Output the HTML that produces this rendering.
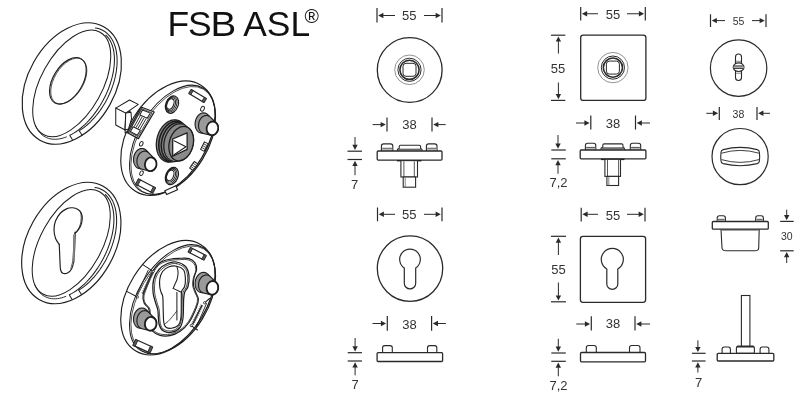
<!DOCTYPE html>
<html><head><meta charset="utf-8"><style>
html,body{margin:0;padding:0;background:#fff;}
svg{display:block;font-family:"Liberation Sans",sans-serif;will-change:transform;}
</style></head><body>
<svg width="810" height="400" viewBox="0 0 810 400">
<line x1="377" y1="8" x2="377" y2="22.5" stroke="#2a2a2a" stroke-width="1.2"/>
<line x1="442" y1="8" x2="442" y2="22.5" stroke="#2a2a2a" stroke-width="1.2"/>
<line x1="395" y1="15.5" x2="382.90" y2="15.50" stroke="#2a2a2a" stroke-width="1"/>
<path d="M378.20,15.50 L383.40,12.80 L383.40,18.20Z" fill="#2a2a2a"/>
<line x1="424" y1="15.5" x2="436.10" y2="15.50" stroke="#2a2a2a" stroke-width="1"/>
<path d="M440.80,15.50 L435.60,18.20 L435.60,12.80Z" fill="#2a2a2a"/>
<text x="409.3" y="20" font-size="13" text-anchor="middle" fill="#333">55</text>
<circle cx="409.7" cy="70" r="32.4" fill="none" stroke="#2a2a2a" stroke-width="1.3"/>
<circle cx="409.5" cy="69.8" r="14.8" fill="none" stroke="#777" stroke-width="0.8"/>
<circle cx="409.5" cy="69.8" r="11.6" fill="none" stroke="#2a2a2a" stroke-width="1.0"/>
<circle cx="409.5" cy="69.8" r="9.6" fill="none" stroke="#2a2a2a" stroke-width="1.6"/>
<rect x="403" y="63.3" width="13" height="13" rx="3" fill="none" stroke="#2a2a2a" stroke-width="1.0"/>
<line x1="387" y1="117.5" x2="387" y2="131.5" stroke="#2a2a2a" stroke-width="1.2"/>
<line x1="432" y1="117.5" x2="432" y2="131.5" stroke="#2a2a2a" stroke-width="1.2"/>
<line x1="372.6" y1="124.6" x2="381.10" y2="124.60" stroke="#2a2a2a" stroke-width="1"/>
<path d="M385.80,124.60 L380.60,127.30 L380.60,121.90Z" fill="#2a2a2a"/>
<line x1="445.7" y1="124.6" x2="437.90" y2="124.60" stroke="#2a2a2a" stroke-width="1"/>
<path d="M433.20,124.60 L438.40,121.90 L438.40,127.30Z" fill="#2a2a2a"/>
<text x="409.5" y="128.8" font-size="13" text-anchor="middle" fill="#333">38</text>
<path d="M381.4,151 L381.4,146.1 Q381.4,143.9 383.59999999999997,143.9 L390.6,143.9 Q392.8,143.9 392.8,146.1 L392.8,151" fill="#fff" stroke="#2a2a2a" stroke-width="1.1" />
<line x1="382.2" y1="148.302" x2="392.0" y2="148.302" stroke="#444" stroke-width="1.0"/>
<rect x="382.0" y="148.802" width="10.200000000000035" height="2.0980000000000074" fill="#bbb"/>
<path d="M426.4,151 L426.4,146.1 Q426.4,143.9 428.59999999999997,143.9 L434.8,143.9 Q437,143.9 437,146.1 L437,151" fill="#fff" stroke="#2a2a2a" stroke-width="1.1" />
<line x1="427.2" y1="148.302" x2="436.2" y2="148.302" stroke="#444" stroke-width="1.0"/>
<rect x="427.0" y="148.802" width="9.400000000000023" height="2.0980000000000074" fill="#bbb"/>
<path d="M397.4,151 L397.4,149.79999999999998 Q397.4,148.79999999999998 398.4,148.79999999999998 L421,148.79999999999998 Q422,148.79999999999998 422,149.79999999999998 L422,151" fill="#fff" stroke="#2a2a2a" stroke-width="1.1" />
<path d="M399.2,148.79999999999998 L399.2,146.6 Q399.2,145.2 400.59999999999997,145.2 L419.2,145.2 Q420.6,145.2 420.6,146.6 L420.6,148.79999999999998" fill="#fff" stroke="#2a2a2a" stroke-width="1.1" />
<line x1="397.9" y1="149.4" x2="421.5" y2="149.4" stroke="#444" stroke-width="0.9"/>
<rect x="398.0" y="149.9" width="23.400000000000023" height="0.9999999999999943" fill="#bbb"/>
<rect x="377.2" y="151" width="64.80000000000001" height="9.099999999999994" rx="1" fill="#fff" stroke="#2a2a2a" stroke-width="1.3"/>
<line x1="396.9" y1="160.7" x2="421.5" y2="160.7" stroke="#222" stroke-width="1.4"/>
<rect x="400.9" y="160.6" width="16.600000000000023" height="16.400000000000006" rx="0" fill="#fff" stroke="#2a2a2a" stroke-width="1.1"/>
<line x1="403.9" y1="161.29999999999998" x2="403.9" y2="177" stroke="#444" stroke-width="0.9"/>
<line x1="414.3" y1="161.29999999999998" x2="414.3" y2="177" stroke="#444" stroke-width="0.9"/>
<rect x="403.2" y="177" width="12.400000000000034" height="10.199999999999989" rx="0" fill="#fff" stroke="#2a2a2a" stroke-width="1.1"/>
<line x1="405.2" y1="177.5" x2="405.2" y2="187.2" stroke="#666" stroke-width="0.8"/>
<line x1="347.5" y1="151.2" x2="362" y2="151.2" stroke="#2a2a2a" stroke-width="1.2"/>
<line x1="347.5" y1="159.5" x2="362" y2="159.5" stroke="#2a2a2a" stroke-width="1.2"/>
<line x1="355" y1="137" x2="355.00" y2="145.30" stroke="#2a2a2a" stroke-width="1"/>
<path d="M355.00,150.00 L352.30,144.80 L357.70,144.80Z" fill="#2a2a2a"/>
<line x1="355" y1="175.2" x2="355.00" y2="165.40" stroke="#2a2a2a" stroke-width="1"/>
<path d="M355.00,160.70 L357.70,165.90 L352.30,165.90Z" fill="#2a2a2a"/>
<text x="354.6" y="189.2" font-size="13" text-anchor="middle" fill="#333">7</text>
<line x1="377.5" y1="207.5" x2="377.5" y2="221.3" stroke="#2a2a2a" stroke-width="1.2"/>
<line x1="442" y1="207.5" x2="442" y2="221.3" stroke="#2a2a2a" stroke-width="1.2"/>
<line x1="395" y1="214.3" x2="383.40" y2="214.30" stroke="#2a2a2a" stroke-width="1"/>
<path d="M378.70,214.30 L383.90,211.60 L383.90,217.00Z" fill="#2a2a2a"/>
<line x1="424" y1="214.3" x2="436.10" y2="214.30" stroke="#2a2a2a" stroke-width="1"/>
<path d="M440.80,214.30 L435.60,217.00 L435.60,211.60Z" fill="#2a2a2a"/>
<text x="409.3" y="219" font-size="13" text-anchor="middle" fill="#333">55</text>
<circle cx="410" cy="268.6" r="32.7" fill="none" stroke="#2a2a2a" stroke-width="1.3"/>
<path d="M404.3,283.2 L404.3,268 A10.3,10.3 0 1 1 415.7,268 L415.7,283.2 A5.7,5.7 0 0 1 404.3,283.2Z" fill="none" stroke="#2a2a2a" stroke-width="1.2" />
<line x1="387.3" y1="316" x2="387.3" y2="330.7" stroke="#2a2a2a" stroke-width="1.2"/>
<line x1="431.6" y1="316" x2="431.6" y2="330.7" stroke="#2a2a2a" stroke-width="1.2"/>
<line x1="372.5" y1="323.5" x2="381.40" y2="323.50" stroke="#2a2a2a" stroke-width="1"/>
<path d="M386.10,323.50 L380.90,326.20 L380.90,320.80Z" fill="#2a2a2a"/>
<line x1="445.9" y1="323.5" x2="437.50" y2="323.50" stroke="#2a2a2a" stroke-width="1"/>
<path d="M432.80,323.50 L438.00,320.80 L438.00,326.20Z" fill="#2a2a2a"/>
<text x="409.6" y="328.6" font-size="13" text-anchor="middle" fill="#333">38</text>
<path d="M382.6,352.7 L382.6,347.8 Q382.6,345.6 384.8,345.6 L390.1,345.6 Q392.3,345.6 392.3,347.8 L392.3,352.7" fill="#fff" stroke="#2a2a2a" stroke-width="1.1" />
<path d="M427.5,352.7 L427.5,347.8 Q427.5,345.6 429.7,345.6 L434.6,345.6 Q436.8,345.6 436.8,347.8 L436.8,352.7" fill="#fff" stroke="#2a2a2a" stroke-width="1.1" />
<rect x="377.1" y="352.7" width="65.5" height="8.8" rx="1" fill="#fff" stroke="#2a2a2a" stroke-width="1.3"/>
<line x1="347.7" y1="352.7" x2="362" y2="352.7" stroke="#2a2a2a" stroke-width="1.2"/>
<line x1="347.7" y1="361" x2="362" y2="361" stroke="#2a2a2a" stroke-width="1.2"/>
<line x1="355.1" y1="338" x2="355.10" y2="346.80" stroke="#2a2a2a" stroke-width="1"/>
<path d="M355.10,351.50 L352.40,346.30 L357.80,346.30Z" fill="#2a2a2a"/>
<line x1="355.1" y1="375.3" x2="355.10" y2="366.90" stroke="#2a2a2a" stroke-width="1"/>
<path d="M355.10,362.20 L357.80,367.40 L352.40,367.40Z" fill="#2a2a2a"/>
<text x="355" y="389" font-size="13" text-anchor="middle" fill="#333">7</text>
<line x1="580.7" y1="7" x2="580.7" y2="20.6" stroke="#2a2a2a" stroke-width="1.2"/>
<line x1="645.3" y1="7" x2="645.3" y2="20.6" stroke="#2a2a2a" stroke-width="1.2"/>
<line x1="598" y1="13.75" x2="586.60" y2="13.75" stroke="#2a2a2a" stroke-width="1"/>
<path d="M581.90,13.75 L587.10,11.05 L587.10,16.45Z" fill="#2a2a2a"/>
<line x1="627" y1="13.75" x2="639.40" y2="13.75" stroke="#2a2a2a" stroke-width="1"/>
<path d="M644.10,13.75 L638.90,16.45 L638.90,11.05Z" fill="#2a2a2a"/>
<text x="612.9" y="18.5" font-size="13" text-anchor="middle" fill="#333">55</text>
<rect x="580.7" y="35.2" width="65.2" height="65.2" rx="2.5" fill="none" stroke="#2a2a2a" stroke-width="1.3"/>
<line x1="551" y1="35.2" x2="565.3" y2="35.2" stroke="#2a2a2a" stroke-width="1.2"/>
<line x1="551" y1="100.4" x2="565.3" y2="100.4" stroke="#2a2a2a" stroke-width="1.2"/>
<line x1="558.4" y1="53.6" x2="558.40" y2="41.10" stroke="#2a2a2a" stroke-width="1"/>
<path d="M558.40,36.40 L561.10,41.60 L555.70,41.60Z" fill="#2a2a2a"/>
<line x1="558.4" y1="82.5" x2="558.40" y2="94.50" stroke="#2a2a2a" stroke-width="1"/>
<path d="M558.40,99.20 L555.70,94.00 L561.10,94.00Z" fill="#2a2a2a"/>
<text x="558" y="73" font-size="13" text-anchor="middle" fill="#333">55</text>
<circle cx="612.9" cy="67.6" r="15.2" fill="none" stroke="#777" stroke-width="0.8"/>
<circle cx="612.9" cy="67.6" r="11.6" fill="none" stroke="#2a2a2a" stroke-width="1.0"/>
<circle cx="612.9" cy="67.6" r="9.6" fill="none" stroke="#2a2a2a" stroke-width="1.6"/>
<rect x="606.4" y="61.1" width="13" height="13" rx="3" fill="none" stroke="#2a2a2a" stroke-width="1.0"/>
<line x1="590.8" y1="115.5" x2="590.8" y2="129.5" stroke="#2a2a2a" stroke-width="1.2"/>
<line x1="635.5" y1="115.5" x2="635.5" y2="129.5" stroke="#2a2a2a" stroke-width="1.2"/>
<line x1="576" y1="123" x2="584.90" y2="123.00" stroke="#2a2a2a" stroke-width="1"/>
<path d="M589.60,123.00 L584.40,125.70 L584.40,120.30Z" fill="#2a2a2a"/>
<line x1="650" y1="123" x2="641.40" y2="123.00" stroke="#2a2a2a" stroke-width="1"/>
<path d="M636.70,123.00 L641.90,120.30 L641.90,125.70Z" fill="#2a2a2a"/>
<text x="613" y="127.6" font-size="13" text-anchor="middle" fill="#333">38</text>
<path d="M585.4,150 L585.4,145.39999999999998 Q585.4,143.2 587.6,143.2 L593.5999999999999,143.2 Q595.8,143.2 595.8,145.39999999999998 L595.8,150" fill="#fff" stroke="#2a2a2a" stroke-width="1.1" />
<line x1="586.1999999999999" y1="147.416" x2="595.0" y2="147.416" stroke="#444" stroke-width="1.0"/>
<rect x="586.0" y="147.916" width="9.199999999999978" height="1.984000000000003" fill="#bbb"/>
<path d="M630.3,150 L630.3,145.39999999999998 Q630.3,143.2 632.5,143.2 L638.5,143.2 Q640.7,143.2 640.7,145.39999999999998 L640.7,150" fill="#fff" stroke="#2a2a2a" stroke-width="1.1" />
<line x1="631.0999999999999" y1="147.416" x2="639.9000000000001" y2="147.416" stroke="#444" stroke-width="1.0"/>
<rect x="630.9" y="147.916" width="9.200000000000092" height="1.984000000000003" fill="#bbb"/>
<path d="M601,150 L601,148.45 Q601,147.45 602,147.45 L623.4,147.45 Q624.4,147.45 624.4,148.45 L624.4,150" fill="#fff" stroke="#2a2a2a" stroke-width="1.1" />
<path d="M602.8,147.45 L602.8,145.25 Q602.8,143.85 604.2,143.85 L621.6,143.85 Q623.0,143.85 623.0,145.25 L623.0,147.45" fill="#fff" stroke="#2a2a2a" stroke-width="1.1" />
<line x1="601.5" y1="148.4" x2="623.9" y2="148.4" stroke="#444" stroke-width="0.9"/>
<rect x="601.6" y="148.9" width="22.199999999999978" height="0.9999999999999943" fill="#bbb"/>
<rect x="580.2" y="150" width="65.69999999999993" height="8.800000000000011" rx="1" fill="#fff" stroke="#2a2a2a" stroke-width="1.3"/>
<line x1="600.9" y1="159.4" x2="624.5" y2="159.4" stroke="#222" stroke-width="1.4"/>
<rect x="604.9" y="159.3" width="15.600000000000023" height="17.099999999999994" rx="0" fill="#fff" stroke="#2a2a2a" stroke-width="1.1"/>
<line x1="607.5" y1="160.0" x2="607.5" y2="176.4" stroke="#444" stroke-width="0.9"/>
<line x1="618.6" y1="160.0" x2="618.6" y2="176.4" stroke="#444" stroke-width="0.9"/>
<rect x="606.9" y="176.4" width="11.700000000000045" height="9.099999999999994" rx="0" fill="#fff" stroke="#2a2a2a" stroke-width="1.1"/>
<line x1="608.8" y1="176.9" x2="608.8" y2="185.5" stroke="#666" stroke-width="0.8"/>
<line x1="551.3" y1="150" x2="565.8" y2="150" stroke="#2a2a2a" stroke-width="1.2"/>
<line x1="551.3" y1="158.8" x2="565.8" y2="158.8" stroke="#2a2a2a" stroke-width="1.2"/>
<line x1="558" y1="135" x2="558.00" y2="144.10" stroke="#2a2a2a" stroke-width="1"/>
<path d="M558.00,148.80 L555.30,143.60 L560.70,143.60Z" fill="#2a2a2a"/>
<line x1="558" y1="173.8" x2="558.00" y2="164.70" stroke="#2a2a2a" stroke-width="1"/>
<path d="M558.00,160.00 L560.70,165.20 L555.30,165.20Z" fill="#2a2a2a"/>
<text x="558.5" y="187.3" font-size="13" text-anchor="middle" fill="#333">7,2</text>
<line x1="581.2" y1="207.7" x2="581.2" y2="221.5" stroke="#2a2a2a" stroke-width="1.2"/>
<line x1="645" y1="207.7" x2="645" y2="221.5" stroke="#2a2a2a" stroke-width="1.2"/>
<line x1="598" y1="214.3" x2="587.10" y2="214.30" stroke="#2a2a2a" stroke-width="1"/>
<path d="M582.40,214.30 L587.60,211.60 L587.60,217.00Z" fill="#2a2a2a"/>
<line x1="627" y1="214.3" x2="639.10" y2="214.30" stroke="#2a2a2a" stroke-width="1"/>
<path d="M643.80,214.30 L638.60,217.00 L638.60,211.60Z" fill="#2a2a2a"/>
<text x="613" y="219.5" font-size="13" text-anchor="middle" fill="#333">55</text>
<rect x="580.4" y="236.3" width="65.2" height="66" rx="2.5" fill="none" stroke="#2a2a2a" stroke-width="1.3"/>
<line x1="551" y1="236.3" x2="566" y2="236.3" stroke="#2a2a2a" stroke-width="1.2"/>
<line x1="551" y1="301.8" x2="566" y2="301.8" stroke="#2a2a2a" stroke-width="1.2"/>
<line x1="558.4" y1="255" x2="558.40" y2="242.20" stroke="#2a2a2a" stroke-width="1"/>
<path d="M558.40,237.50 L561.10,242.70 L555.70,242.70Z" fill="#2a2a2a"/>
<line x1="558.4" y1="282.5" x2="558.40" y2="295.90" stroke="#2a2a2a" stroke-width="1"/>
<path d="M558.40,300.60 L555.70,295.40 L561.10,295.40Z" fill="#2a2a2a"/>
<text x="558.4" y="274.3" font-size="13" text-anchor="middle" fill="#333">55</text>
<path d="M606.8,283.9 L606.8,269 A11,11 0 1 1 617.8,269 L617.8,283.9 A5.5,5.5 0 0 1 606.8,283.9Z" fill="none" stroke="#2a2a2a" stroke-width="1.2" />
<line x1="591.3" y1="316.3" x2="591.3" y2="330.5" stroke="#2a2a2a" stroke-width="1.2"/>
<line x1="635" y1="316.3" x2="635" y2="330.5" stroke="#2a2a2a" stroke-width="1.2"/>
<line x1="576.3" y1="324" x2="585.40" y2="324.00" stroke="#2a2a2a" stroke-width="1"/>
<path d="M590.10,324.00 L584.90,326.70 L584.90,321.30Z" fill="#2a2a2a"/>
<line x1="650" y1="324" x2="640.90" y2="324.00" stroke="#2a2a2a" stroke-width="1"/>
<path d="M636.20,324.00 L641.40,321.30 L641.40,326.70Z" fill="#2a2a2a"/>
<text x="613" y="328" font-size="13" text-anchor="middle" fill="#333">38</text>
<path d="M586.3,352.5 L586.3,347.7 Q586.3,345.5 588.5,345.5 L594.0999999999999,345.5 Q596.3,345.5 596.3,347.7 L596.3,352.5" fill="#fff" stroke="#2a2a2a" stroke-width="1.1" />
<path d="M629.5,352.5 L629.5,347.7 Q629.5,345.5 631.7,345.5 L637.8,345.5 Q640,345.5 640,347.7 L640,352.5" fill="#fff" stroke="#2a2a2a" stroke-width="1.1" />
<rect x="580.5" y="352.5" width="65" height="9.3" rx="1" fill="#fff" stroke="#2a2a2a" stroke-width="1.3"/>
<line x1="551.3" y1="353" x2="565.8" y2="353" stroke="#2a2a2a" stroke-width="1.2"/>
<line x1="551.3" y1="361.3" x2="565.8" y2="361.3" stroke="#2a2a2a" stroke-width="1.2"/>
<line x1="558.3" y1="338.8" x2="558.30" y2="347.10" stroke="#2a2a2a" stroke-width="1"/>
<path d="M558.30,351.80 L555.60,346.60 L561.00,346.60Z" fill="#2a2a2a"/>
<line x1="558.3" y1="376.3" x2="558.30" y2="367.20" stroke="#2a2a2a" stroke-width="1"/>
<path d="M558.30,362.50 L561.00,367.70 L555.60,367.70Z" fill="#2a2a2a"/>
<text x="558.5" y="389.5" font-size="13" text-anchor="middle" fill="#333">7,2</text>
<line x1="710.5" y1="14.3" x2="710.5" y2="27" stroke="#2a2a2a" stroke-width="1.2"/>
<line x1="766" y1="14.3" x2="766" y2="27" stroke="#2a2a2a" stroke-width="1.2"/>
<line x1="725" y1="20.6" x2="716.40" y2="20.60" stroke="#2a2a2a" stroke-width="1"/>
<path d="M711.70,20.60 L716.90,17.90 L716.90,23.30Z" fill="#2a2a2a"/>
<line x1="752" y1="20.6" x2="760.10" y2="20.60" stroke="#2a2a2a" stroke-width="1"/>
<path d="M764.80,20.60 L759.60,23.30 L759.60,17.90Z" fill="#2a2a2a"/>
<text x="738.5" y="24.7" font-size="10.5" text-anchor="middle" fill="#333">55</text>
<circle cx="738.6" cy="68.1" r="28.2" fill="none" stroke="#2a2a2a" stroke-width="1.2"/>
<rect x="735.5" y="54.0" width="6.0" height="26.5" rx="3" fill="none" stroke="#2a2a2a" stroke-width="1.1"/>
<line x1="736" y1="61.3" x2="741" y2="61.3" stroke="#666" stroke-width="0.8"/>
<line x1="736" y1="73.2" x2="741" y2="73.2" stroke="#666" stroke-width="0.8"/>
<ellipse cx="738.6" cy="67.2" rx="5.4" ry="4.3" fill="#fff" stroke="#2a2a2a" stroke-width="1.1"/>
<rect x="733.6" y="65.9" width="10" height="2.6" fill="#aaa"/>
<line x1="733.5" y1="65.9" x2="743.7" y2="65.9" stroke="#333" stroke-width="0.9"/>
<line x1="733.5" y1="68.5" x2="743.7" y2="68.5" stroke="#333" stroke-width="0.9"/>
<line x1="719.3" y1="107" x2="719.3" y2="120" stroke="#2a2a2a" stroke-width="1.2"/>
<line x1="757" y1="107" x2="757" y2="120" stroke="#2a2a2a" stroke-width="1.2"/>
<line x1="706.3" y1="113.3" x2="713.40" y2="113.30" stroke="#2a2a2a" stroke-width="1"/>
<path d="M718.10,113.30 L712.90,116.00 L712.90,110.60Z" fill="#2a2a2a"/>
<line x1="770" y1="113.3" x2="762.90" y2="113.30" stroke="#2a2a2a" stroke-width="1"/>
<path d="M758.20,113.30 L763.40,110.60 L763.40,116.00Z" fill="#2a2a2a"/>
<text x="738.4" y="117.5" font-size="10.5" text-anchor="middle" fill="#333">38</text>
<circle cx="740.1" cy="156.6" r="28.1" fill="none" stroke="#2a2a2a" stroke-width="1.2"/>
<path d="M721,152.2 Q721,150.2 723.2,149.6 Q740.2,145.2 757.2,149.6 Q759.4,150.2 759.4,152.2 Q759.9,156.6 759.4,161 Q759.4,163 757.2,163.6 Q740.2,167.8 723.2,163.6 Q721,163 721,161 Q720.5,156.6 721,152.2Z" fill="none" stroke="#2a2a2a" stroke-width="1.1" />
<path d="M721.4,153.2 Q740.2,147.6 759,153.2 M721.4,159.6 Q740.2,165.2 759,159.6" fill="none" stroke="#2a2a2a" stroke-width="0.9" />
<path d="M717.2,221.5 L717.2,218.0 Q717.2,215.8 719.4000000000001,215.8 L723.1999999999999,215.8 Q725.4,215.8 725.4,218.0 L725.4,221.5" fill="#fff" stroke="#2a2a2a" stroke-width="1.1" />
<line x1="718.0" y1="219.334" x2="724.6" y2="219.334" stroke="#444" stroke-width="1.0"/>
<rect x="717.8000000000001" y="219.834" width="6.999999999999932" height="1.5659999999999967" fill="#bbb"/>
<path d="M755.7,221.5 L755.7,218.0 Q755.7,215.8 757.9000000000001,215.8 L761.1999999999999,215.8 Q763.4,215.8 763.4,218.0 L763.4,221.5" fill="#fff" stroke="#2a2a2a" stroke-width="1.1" />
<line x1="756.5" y1="219.334" x2="762.6" y2="219.334" stroke="#444" stroke-width="1.0"/>
<rect x="756.3000000000001" y="219.834" width="6.499999999999932" height="1.5659999999999967" fill="#bbb"/>
<rect x="712.3" y="221.5" width="56" height="7.7" rx="1" fill="#fff" stroke="#2a2a2a" stroke-width="1.3"/>
<line x1="722" y1="229.9" x2="758.5" y2="229.9" stroke="#444" stroke-width="1.2"/>
<path d="M721,229.2 L722,248 Q722.5,250.8 726,250.8 L755,250.8 Q758.5,250.8 758.7,248 L759.2,229.2" fill="none" stroke="#2a2a2a" stroke-width="1.1" />
<line x1="780.2" y1="221.4" x2="793.7" y2="221.4" stroke="#2a2a2a" stroke-width="1.2"/>
<line x1="780.2" y1="250.8" x2="793.7" y2="250.8" stroke="#2a2a2a" stroke-width="1.2"/>
<line x1="786.7" y1="209.6" x2="786.70" y2="215.50" stroke="#2a2a2a" stroke-width="1"/>
<path d="M786.70,220.20 L784.00,215.00 L789.40,215.00Z" fill="#2a2a2a"/>
<line x1="786.7" y1="263" x2="786.70" y2="256.70" stroke="#2a2a2a" stroke-width="1"/>
<path d="M786.70,252.00 L789.40,257.20 L784.00,257.20Z" fill="#2a2a2a"/>
<text x="786.8" y="240" font-size="10.5" text-anchor="middle" fill="#333">30</text>
<rect x="741.4" y="295.5" width="8.5" height="51" rx="0" fill="none" stroke="#2a2a2a" stroke-width="1.1"/>
<rect x="736.4" y="346.4" width="18" height="7" rx="1.5" fill="none" stroke="#2a2a2a" stroke-width="1.1"/>
<line x1="737" y1="346.6" x2="754" y2="346.6" stroke="#2a2a2a" stroke-width="1.8"/>
<path d="M722.1,353.3 L722.1,349.2 Q722.1,347 724.3000000000001,347 L728.1999999999999,347 Q730.4,347 730.4,349.2 L730.4,353.3" fill="#fff" stroke="#2a2a2a" stroke-width="1.1" />
<path d="M760.1,353.3 L760.1,349.2 Q760.1,347 762.3000000000001,347 L766.6999999999999,347 Q768.9,347 768.9,349.2 L768.9,353.3" fill="#fff" stroke="#2a2a2a" stroke-width="1.1" />
<rect x="717.2" y="353.3" width="56.6" height="7.7" rx="1" fill="#fff" stroke="#2a2a2a" stroke-width="1.3"/>
<line x1="691.9" y1="353.3" x2="705.6" y2="353.3" stroke="#2a2a2a" stroke-width="1.2"/>
<line x1="691.9" y1="361" x2="705.6" y2="361" stroke="#2a2a2a" stroke-width="1.2"/>
<line x1="697.9" y1="340.3" x2="697.90" y2="347.40" stroke="#2a2a2a" stroke-width="1"/>
<path d="M697.90,352.10 L695.20,346.90 L700.60,346.90Z" fill="#2a2a2a"/>
<line x1="697.9" y1="372.5" x2="697.90" y2="366.90" stroke="#2a2a2a" stroke-width="1"/>
<path d="M697.90,362.20 L700.60,367.40 L695.20,367.40Z" fill="#2a2a2a"/>
<text x="698.7" y="387.1" font-size="13" text-anchor="middle" fill="#333">7</text>
<text x="167.6" y="36.4" font-size="35.4" fill="#111">F<tspan dx="-1.2">S</tspan></text>
<text x="0" y="36.4" font-size="35.4" fill="#111" transform="translate(210.6,0) scale(1.09,1)">B</text>
<text x="243.2" y="36.4" font-size="35.4" fill="#111">ASL</text>
<text x="304.6" y="22.7" font-size="19.5" fill="#111">&#174;</text>
<ellipse cx="71.8" cy="83.48" rx="65.01" ry="43.63" transform="rotate(-60.62 71.8 83.48)" fill="#fff" stroke="#1e1e1e" stroke-width="1.15"/>
<ellipse cx="71.72" cy="83.42" rx="58.48" ry="30.63" transform="rotate(-60.98 71.72 83.42)" fill="none" stroke="#1e1e1e" stroke-width="1.03"/>
<ellipse cx="67.89" cy="80.8" rx="25.63" ry="14.8" transform="rotate(-58.79 67.89 80.8)" fill="none" stroke="#1e1e1e" stroke-width="1.15"/>
<ellipse cx="68.79" cy="81.1" rx="25.33" ry="14.5" transform="rotate(-58.79 68.79 81.1)" fill="none" stroke="#1e1e1e" stroke-width="0.69"/>
<path d="M95.41,27.99 L97.32,28.33 L99.16,28.82 L100.94,29.46 L102.64,30.25 L104.27,31.19 L105.82,32.28 L107.29,33.50 L108.66,34.86 L109.95,36.36 L111.13,37.99 L112.22,39.74 L113.21,41.61 L114.09,43.60 L114.86,45.70 L115.52,47.90 L116.07,50.19 L116.50,52.58 L116.82,55.06 L117.03,57.61 L117.12,60.23 L117.09,62.91 L116.94,65.65 L116.68,68.43 L116.31,71.26 L115.82,74.12 L115.22,77.00 L114.50,79.89 L113.68,82.80 L112.75,85.70 L111.72,88.59 L110.58,91.47 L109.35,94.32 L108.02,97.13 L106.60,99.91 L105.09,102.64 L103.50,105.31 L101.84,107.91 L100.10,110.45 L98.29,112.90 L96.42,115.27 L94.49,117.55 L92.50,119.72 L90.47,121.80 L88.40,123.76 L86.29,125.61 L84.16,127.33 L82.00,128.93 L79.82,130.39" fill="none" stroke="#1e1e1e" stroke-width="1.03" stroke-linejoin="round" stroke-linecap="round" />
<path d="M105.83,35.12 L107.10,36.41 L108.29,37.83 L109.38,39.39 L110.37,41.06 L111.25,42.86 L112.04,44.78 L112.71,46.80 L113.28,48.94 L113.73,51.17 L114.07,53.49 L114.30,55.90 L114.42,58.39 L114.42,60.96 L114.31,63.59 L114.09,66.27 L113.75,69.01 L113.30,71.80 L112.75,74.62 L112.08,77.46 L111.30,80.33 L110.42,83.21 L109.44,86.09 L108.36,88.97 L107.18,91.84 L105.90,94.68 L104.54,97.50 L103.09,100.28 L101.56,103.02 L99.95,105.71 L98.26,108.34 L96.51,110.91 L94.70,113.40 L92.82,115.81 L90.89,118.13 L88.92,120.36 L86.90,122.50 L84.84,124.52 L82.75,126.44 L80.64,128.24 L78.51,129.91 L76.36,131.47 L74.20,132.89 L72.05,134.17 L69.89,135.32" fill="none" stroke="#1e1e1e" stroke-width="1.03" stroke-linejoin="round" stroke-linecap="round" />
<path d="M66.36,136.91 L64.19,137.70 L62.05,138.34 L59.94,138.81 L57.87,139.13 L55.85,139.28 L53.88,139.28 L51.96,139.11 L50.12,138.79 L48.33,138.30 L46.63,137.66 L45.00,136.86 L43.46,135.91 L42.00,134.81 L40.64,133.56 L39.37,132.17 L38.21,130.64 L37.15,128.97 L36.19,127.18 L35.35,125.26" fill="none" stroke="#1e1e1e" stroke-width="0.92" stroke-linejoin="round" stroke-linecap="round" />
<path d="M82,135 L79,130.5" fill="none" stroke="#1e1e1e" stroke-width="1.03" stroke-linejoin="round" stroke-linecap="round" />
<path d="M70,135.8 L72.3,139.6" fill="none" stroke="#1e1e1e" stroke-width="1.03" stroke-linejoin="round" stroke-linecap="round" />
<ellipse cx="168.14" cy="138.2" rx="62.32" ry="40.27" transform="rotate(-58.31 168.14 138.2)" fill="#fff" stroke="#1e1e1e" stroke-width="1.15"/>
<ellipse cx="172.29" cy="139.84" rx="60.16" ry="34.39" transform="rotate(-59.03 172.29 139.84)" fill="none" stroke="#1e1e1e" stroke-width="1.03"/>
<ellipse cx="173.09" cy="140.44" rx="59.559999999999995" ry="33.79" transform="rotate(-59.03 173.09 140.44)" fill="none" stroke="#1e1e1e" stroke-width="0.69"/>
<ellipse cx="172.0" cy="104.6" rx="9.0" ry="6.1" transform="rotate(-68 172.0 104.6)" fill="#fff" stroke="#1e1e1e" stroke-width="1.26"/>
<ellipse cx="171.5" cy="104.39999999999999" rx="7.9" ry="5.1" transform="rotate(-68 171.5 104.39999999999999)" fill="none" stroke="#1e1e1e" stroke-width="0.92"/>
<ellipse cx="171.0" cy="104.19999999999999" rx="6.8" ry="4.2" transform="rotate(-68 171.0 104.19999999999999)" fill="none" stroke="#1e1e1e" stroke-width="0.92"/>
<ellipse cx="170.4" cy="104.0" rx="5.5" ry="3.3" transform="rotate(-68 170.4 104.0)" fill="#fff" stroke="#1e1e1e" stroke-width="1.15"/>
<ellipse cx="171.9" cy="176.0" rx="9.0" ry="6.1" transform="rotate(-68 171.9 176.0)" fill="#fff" stroke="#1e1e1e" stroke-width="1.26"/>
<ellipse cx="171.4" cy="175.8" rx="7.9" ry="5.1" transform="rotate(-68 171.4 175.8)" fill="none" stroke="#1e1e1e" stroke-width="0.92"/>
<ellipse cx="170.9" cy="175.6" rx="6.8" ry="4.2" transform="rotate(-68 170.9 175.6)" fill="none" stroke="#1e1e1e" stroke-width="0.92"/>
<ellipse cx="170.3" cy="175.4" rx="5.5" ry="3.3" transform="rotate(-68 170.3 175.4)" fill="#fff" stroke="#1e1e1e" stroke-width="1.15"/>
<ellipse cx="202.5" cy="108.8" rx="2.6" ry="1.7" transform="rotate(-65 202.5 108.8)" fill="none" stroke="#1e1e1e" stroke-width="0.92"/>
<ellipse cx="141.3" cy="143.8" rx="2.4" ry="1.6" transform="rotate(-65 141.3 143.8)" fill="none" stroke="#1e1e1e" stroke-width="0.92"/>
<ellipse cx="141.5" cy="173.2" rx="2.4" ry="1.6" transform="rotate(-65 141.5 173.2)" fill="none" stroke="#1e1e1e" stroke-width="0.92"/>
<path d="M156.30,144.77 L156.32,143.68 L156.38,142.57 L156.48,141.47 L156.63,140.36 L156.82,139.26 L157.05,138.16 L157.32,137.07 L157.63,135.98 L157.98,134.92 L158.37,133.87 L158.80,132.83 L159.26,131.82 L159.76,130.84 L160.29,129.88 L160.85,128.96 L161.44,128.07 L162.07,127.21 L162.72,126.39 L163.39,125.61 L164.09,124.87 L164.81,124.18 L165.55,123.53 L166.31,122.93 L167.09,122.39 L167.87,121.89 L168.67,121.44 L169.48,121.05 L170.29,120.71 L171.11,120.43 L171.93,120.20 L172.75,120.03 L173.57,119.92 L174.39,119.87 L175.20,119.87 L176.00,119.94 L176.79,120.06 L177.56,120.23 L178.32,120.47 L179.07,120.76 L179.79,121.10 L180.50,121.50 L181.18,121.96 L181.83,122.47 L189.08,128.38 L189.57,128.83 L190.04,129.32 L190.48,129.85 L190.89,130.42 L191.28,131.02 L191.64,131.66 L191.97,132.33 L192.28,133.03 L192.55,133.76 L192.79,134.51 L193.00,135.29 L193.18,136.10 L193.32,136.92 L193.43,137.77 L193.51,138.63 L193.55,139.50 L193.56,140.38 L193.54,141.28 L193.48,142.18 L193.39,143.08 L193.27,143.98 L193.11,144.89 L192.92,145.79 L192.69,146.68 L192.44,147.56 L192.16,148.44 L191.84,149.30 L191.50,150.15 L191.12,150.97 L190.72,151.78 L190.30,152.57 L189.85,153.33 L189.37,154.06 L188.88,154.77 L188.36,155.44 L187.82,156.08 L187.27,156.69 L186.69,157.26 L186.11,157.80 L185.51,158.29 L184.89,158.75 L184.27,159.16 L183.64,159.53 L183.00,159.86 L182.36,160.15 L181.71,160.38 L181.07,160.57 L180.42,160.72 L179.78,160.82 L170.43,162.08 L169.61,162.13 L168.80,162.13 L168.00,162.06 L167.21,161.94 L166.44,161.77 L165.68,161.53 L164.93,161.24 L164.21,160.90 L163.50,160.50 L162.82,160.04 L162.17,159.53 L161.54,158.98 L160.94,158.37 L160.38,157.72 L159.84,157.02 L159.34,156.27 L158.87,155.49 L158.44,154.66 L158.04,153.80 L157.68,152.90 L157.37,151.97 L157.09,151.01 L156.85,150.02 L156.66,149.01 L156.50,147.98 L156.39,146.92 L156.32,145.85Z" fill="#8a8a8a" stroke="#1e1e1e" stroke-width="1.26" stroke-linejoin="round" stroke-linecap="round" />
<path d="M168.48,161.53 L167.99,161.39 L167.51,161.22 L167.04,161.03 L166.57,160.82 L166.12,160.58 L165.67,160.31 L165.24,160.03 L164.81,159.72 L164.40,159.39 L164.00,159.04 L163.61,158.67 L163.23,158.27 L162.86,157.86 L162.51,157.42 L162.17,156.97 L161.85,156.50 L161.54,156.01 L161.25,155.50 L160.97,154.97 L160.70,154.43 L160.46,153.88 L160.23,153.30 L160.01,152.72 L159.81,152.12 L159.63,151.50 L159.47,150.88 L159.33,150.24 L159.20,149.59 L159.09,148.93 L159.00,148.27 L158.92,147.59 L158.87,146.91 L158.83,146.22 L158.81,145.53 L158.81,144.83 L158.83,144.13 L158.86,143.42 L158.92,142.71 L158.99,142.00 L159.08,141.29 L159.19,140.58 L159.31,139.87 L159.46,139.16 L159.62,138.46 L159.80,137.76 L159.99,137.06 L160.20,136.37 L160.43,135.69 L160.68,135.01 L160.94,134.34 L161.22,133.68 L161.51,133.03 L161.82,132.39 L162.14,131.76 L162.48,131.14 L162.83,130.53 L163.19,129.94 L163.57,129.36 L163.96,128.80 L164.36,128.25 L164.77,127.72 L165.20,127.21 L165.63,126.71 L166.07,126.23 L166.53,125.77 L166.99,125.33 L167.46,124.91 L167.94,124.51 L168.43,124.13 L168.92,123.77 L169.42,123.43 L169.92,123.12 L170.43,122.82 L170.95,122.55 L171.46,122.31 L171.98,122.08 L172.50,121.88 L173.03,121.71 L173.55,121.55 L174.08,121.43 L174.60,121.32 L175.12,121.24 L175.65,121.19 L176.17,121.16 L176.68,121.16 L177.20,121.18 L177.71,121.22 L178.21,121.29 L178.71,121.39 L179.20,121.51" fill="none" stroke="#1e1e1e" stroke-width="1.61" stroke-linejoin="round" stroke-linecap="round" />
<path d="M170.52,161.30 L170.05,161.16 L169.60,161.00 L169.15,160.82 L168.70,160.61 L168.27,160.38 L167.84,160.13 L167.43,159.86 L167.02,159.56 L166.63,159.25 L166.24,158.91 L165.87,158.55 L165.51,158.17 L165.16,157.78 L164.83,157.36 L164.51,156.92 L164.20,156.47 L163.90,156.00 L163.62,155.51 L163.36,155.01 L163.11,154.49 L162.87,153.95 L162.65,153.40 L162.45,152.84 L162.26,152.26 L162.09,151.67 L161.94,151.07 L161.80,150.45 L161.68,149.83 L161.58,149.20 L161.49,148.56 L161.42,147.91 L161.37,147.25 L161.33,146.59 L161.32,145.92 L161.32,145.25 L161.33,144.58 L161.37,143.90 L161.42,143.21 L161.49,142.53 L161.58,141.85 L161.69,141.16 L161.81,140.48 L161.95,139.80 L162.10,139.12 L162.27,138.45 L162.46,137.78 L162.67,137.11 L162.89,136.45 L163.12,135.80 L163.37,135.16 L163.64,134.52 L163.92,133.89 L164.21,133.28 L164.52,132.67 L164.85,132.08 L165.18,131.49 L165.53,130.92 L165.89,130.37 L166.27,129.83 L166.65,129.30 L167.05,128.79 L167.45,128.29 L167.87,127.81 L168.29,127.35 L168.73,126.91 L169.17,126.48 L169.62,126.08 L170.08,125.69 L170.54,125.32 L171.02,124.98 L171.49,124.65 L171.97,124.35 L172.46,124.06 L172.95,123.80 L173.45,123.56 L173.94,123.35 L174.44,123.15 L174.94,122.98 L175.44,122.84 L175.94,122.71 L176.45,122.61 L176.95,122.54 L177.44,122.48 L177.94,122.45 L178.43,122.45 L178.92,122.47 L179.41,122.51 L179.89,122.58 L180.37,122.67 L180.84,122.78" fill="none" stroke="#1e1e1e" stroke-width="1.61" stroke-linejoin="round" stroke-linecap="round" />
<path d="M172.56,161.07 L172.12,160.94 L171.68,160.78 L171.25,160.61 L170.83,160.41 L170.42,160.19 L170.01,159.95 L169.62,159.69 L169.23,159.41 L168.86,159.10 L168.49,158.78 L168.14,158.44 L167.80,158.08 L167.47,157.69 L167.15,157.29 L166.84,156.88 L166.55,156.44 L166.27,155.99 L166.00,155.52 L165.75,155.04 L165.51,154.54 L165.29,154.02 L165.08,153.50 L164.89,152.95 L164.71,152.40 L164.55,151.84 L164.40,151.26 L164.27,150.67 L164.16,150.07 L164.06,149.47 L163.98,148.85 L163.92,148.23 L163.87,147.60 L163.84,146.96 L163.82,146.32 L163.82,145.67 L163.84,145.02 L163.88,144.37 L163.93,143.72 L164.00,143.06 L164.08,142.40 L164.18,141.75 L164.30,141.09 L164.44,140.44 L164.59,139.79 L164.75,139.14 L164.93,138.49 L165.13,137.86 L165.34,137.22 L165.56,136.60 L165.81,135.98 L166.06,135.37 L166.33,134.76 L166.61,134.17 L166.91,133.59 L167.22,133.01 L167.54,132.45 L167.87,131.91 L168.22,131.37 L168.57,130.85 L168.94,130.34 L169.32,129.85 L169.71,129.37 L170.10,128.91 L170.51,128.47 L170.93,128.04 L171.35,127.63 L171.78,127.24 L172.22,126.87 L172.66,126.52 L173.11,126.18 L173.57,125.87 L174.03,125.58 L174.49,125.30 L174.96,125.05 L175.43,124.82 L175.90,124.61 L176.38,124.43 L176.86,124.26 L177.33,124.12 L177.81,124.00 L178.29,123.90 L178.77,123.83 L179.24,123.77 L179.72,123.75 L180.19,123.74 L180.65,123.76 L181.12,123.80 L181.58,123.86 L182.03,123.94 L182.48,124.05" fill="none" stroke="#1e1e1e" stroke-width="1.26" stroke-linejoin="round" stroke-linecap="round" />
<ellipse cx="181.2" cy="143.6" rx="17.6" ry="11.9" transform="rotate(-75 181.2 143.6)" fill="#8a8a8a" stroke="#1e1e1e" stroke-width="1.26"/>
<path d="M172.7,139 L187.1,132.9 L187.1,149.4 L172.7,156.3Z" fill="#fff" stroke="#1e1e1e" stroke-width="1.26" stroke-linejoin="round" stroke-linecap="round" />
<path d="M174,140.8 L186,146.8 L174,154.8" fill="none" stroke="#1e1e1e" stroke-width="1.03" stroke-linejoin="round" stroke-linecap="round" />
<path d="M191.28,89.52 L206.28,98.54 L203.92,102.48 L188.92,93.46Z" fill="#fff" stroke="#1e1e1e" stroke-width="1.15" stroke-linejoin="round" stroke-linecap="round" />
<path d="M193.17,90.66 L190.80,94.60" fill="none" stroke="#1e1e1e" stroke-width="0.92" stroke-linejoin="round" stroke-linecap="round" />
<path d="M191.28,89.52 L193.17,90.66 L190.80,94.60 L188.92,93.46Z" fill="#555" stroke="#1e1e1e" stroke-width="0.46" stroke-linejoin="round" stroke-linecap="round" />
<path d="M204.40,97.40 L202.03,101.34" fill="none" stroke="#1e1e1e" stroke-width="0.92" stroke-linejoin="round" stroke-linecap="round" />
<path d="M206.28,98.54 L204.40,97.40 L202.03,101.34 L203.92,102.48Z" fill="#555" stroke="#1e1e1e" stroke-width="0.46" stroke-linejoin="round" stroke-linecap="round" />
<path d="M200.55,149.37 L204.54,141.86 L208.25,143.83 L204.26,151.34Z" fill="#fff" stroke="#1e1e1e" stroke-width="1.03" stroke-linejoin="round" stroke-linecap="round" />
<path d="M201.55,147.49 L205.26,149.46" fill="none" stroke="#1e1e1e" stroke-width="0.80" stroke-linejoin="round" stroke-linecap="round" />
<path d="M202.55,145.61 L206.25,147.59" fill="none" stroke="#1e1e1e" stroke-width="0.80" stroke-linejoin="round" stroke-linecap="round" />
<path d="M203.54,143.74 L207.25,145.71" fill="none" stroke="#1e1e1e" stroke-width="0.80" stroke-linejoin="round" stroke-linecap="round" />
<path d="M189.69,168.07 L194.27,161.52 L197.71,163.93 L193.13,170.48Z" fill="#fff" stroke="#1e1e1e" stroke-width="1.03" stroke-linejoin="round" stroke-linecap="round" />
<path d="M190.83,166.43 L194.27,168.84" fill="none" stroke="#1e1e1e" stroke-width="0.80" stroke-linejoin="round" stroke-linecap="round" />
<path d="M191.98,164.80 L195.42,167.20" fill="none" stroke="#1e1e1e" stroke-width="0.80" stroke-linejoin="round" stroke-linecap="round" />
<path d="M193.13,163.16 L196.57,165.57" fill="none" stroke="#1e1e1e" stroke-width="0.80" stroke-linejoin="round" stroke-linecap="round" />
<path d="M138.62,178.89 L155.40,187.81 L152.58,193.11 L135.80,184.19Z" fill="#fff" stroke="#1e1e1e" stroke-width="1.15" stroke-linejoin="round" stroke-linecap="round" />
<path d="M140.56,179.92 L137.75,185.22" fill="none" stroke="#1e1e1e" stroke-width="0.92" stroke-linejoin="round" stroke-linecap="round" />
<path d="M138.62,178.89 L140.56,179.92 L137.75,185.22 L135.80,184.19Z" fill="#555" stroke="#1e1e1e" stroke-width="0.46" stroke-linejoin="round" stroke-linecap="round" />
<path d="M153.45,186.78 L150.64,192.08" fill="none" stroke="#1e1e1e" stroke-width="0.92" stroke-linejoin="round" stroke-linecap="round" />
<path d="M155.40,187.81 L153.45,186.78 L150.64,192.08 L152.58,193.11Z" fill="#555" stroke="#1e1e1e" stroke-width="0.46" stroke-linejoin="round" stroke-linecap="round" />
<path d="M164.86,190.72 L175.83,185.84 L177.54,189.68 L166.57,194.56Z" fill="#fff" stroke="#1e1e1e" stroke-width="1.15" stroke-linejoin="round" stroke-linecap="round" />
<path d="M195.11,123.80 L195.13,123.27 L195.17,122.74 L195.23,122.21 L195.31,121.68 L195.42,121.16 L195.54,120.64 L195.69,120.12 L195.85,119.62 L196.03,119.12 L196.23,118.64 L196.45,118.17 L196.68,117.71 L196.94,117.26 L197.20,116.83 L197.49,116.42 L197.79,116.03 L198.10,115.65 L198.42,115.30 L198.76,114.96 L199.11,114.65 L199.47,114.36 L199.83,114.10 L200.21,113.86 L200.59,113.64 L200.98,113.45 L201.37,113.29 L201.77,113.15 L202.17,113.04 L202.57,112.96 L202.98,112.90 L203.38,112.87 L203.78,112.87 L204.18,112.90 L204.57,112.95 L204.96,113.04 L205.34,113.15 L205.72,113.28 L206.09,113.45 L206.45,113.64 L206.80,113.85 L207.14,114.09 L207.46,114.36 L207.78,114.65 L216.29,123.02 L216.52,123.25 L216.73,123.50 L216.93,123.75 L217.11,124.02 L217.29,124.31 L217.45,124.60 L217.59,124.91 L217.72,125.22 L217.84,125.54 L217.95,125.88 L218.03,126.21 L218.10,126.56 L218.16,126.91 L218.20,127.26 L218.23,127.61 L218.24,127.97 L218.23,128.33 L218.21,128.69 L218.17,129.05 L218.11,129.41 L218.04,129.76 L217.96,130.11 L217.85,130.46 L217.74,130.80 L217.61,131.13 L217.46,131.46 L217.30,131.78 L217.13,132.08 L216.94,132.38 L216.75,132.67 L216.54,132.95 L216.32,133.21 L216.09,133.46 L215.84,133.69 L215.59,133.92 L215.33,134.12 L215.06,134.31 L214.79,134.49 L214.51,134.65 L214.22,134.79 L213.93,134.91 L213.63,135.02 L213.33,135.10 L213.03,135.17 L212.72,135.22 L212.42,135.26 L212.11,135.27 L211.81,135.26 L211.50,135.24 L211.20,135.19 L210.91,135.13 L201.03,133.04 L200.64,132.96 L200.26,132.85 L199.88,132.72 L199.51,132.55 L199.15,132.36 L198.80,132.15 L198.46,131.91 L198.14,131.64 L197.82,131.35 L197.52,131.04 L197.24,130.71 L196.97,130.35 L196.71,129.98 L196.48,129.58 L196.25,129.17 L196.05,128.74 L195.87,128.30 L195.70,127.84 L195.56,127.36 L195.43,126.88 L195.33,126.38 L195.24,125.88 L195.18,125.37 L195.13,124.85 L195.11,124.33Z" fill="#9a9a9a" stroke="#1e1e1e" stroke-width="1.15" stroke-linejoin="round" stroke-linecap="round" />
<path d="M202.45,133.12 L202.23,133.00 L202.01,132.87 L201.80,132.72 L201.59,132.57 L201.39,132.41 L201.19,132.23 L201.00,132.05 L200.82,131.86 L200.64,131.66 L200.47,131.45 L200.30,131.24 L200.14,131.01 L199.99,130.78 L199.84,130.54 L199.70,130.29 L199.57,130.04 L199.44,129.78 L199.33,129.51 L199.22,129.24 L199.12,128.96 L199.02,128.68 L198.94,128.39 L198.86,128.09 L198.79,127.80 L198.73,127.49 L198.68,127.19 L198.63,126.88 L198.60,126.57 L198.57,126.26 L198.56,125.94 L198.55,125.62 L198.55,125.31 L198.56,124.99 L198.57,124.67 L198.60,124.35 L198.63,124.03 L198.68,123.71 L198.73,123.39 L198.79,123.08 L198.86,122.76 L198.93,122.45 L199.02,122.14 L199.11,121.84 L199.21,121.54 L199.32,121.24 L199.44,120.94 L199.56,120.65 L199.69,120.37 L199.83,120.09 L199.98,119.81 L200.13,119.54 L200.29,119.28 L200.46,119.02 L200.63,118.77 L200.81,118.53 L201.00,118.30 L201.19,118.07 L201.38,117.85 L201.58,117.64 L201.79,117.44 L202.00,117.24 L202.22,117.06 L202.44,116.88 L202.66,116.72 L202.89,116.56 L203.12,116.42 L203.35,116.28 L203.59,116.15 L203.83,116.04 L204.07,115.93 L204.31,115.84 L204.56,115.75 L204.80,115.68 L205.05,115.62 L205.30,115.56 L205.55,115.52 L205.80,115.49 L206.05,115.47 L206.30,115.47 L206.54,115.47 L206.79,115.49 L207.04,115.51 L207.28,115.55 L207.52,115.60 L207.76,115.66 L208.00,115.73 L208.23,115.81 L208.46,115.90 L208.69,116.00 L208.91,116.12" fill="none" stroke="#1e1e1e" stroke-width="1.15" stroke-linejoin="round" stroke-linecap="round" />
<ellipse cx="212.4" cy="128.4" rx="6.9" ry="5.8" transform="rotate(-80 212.4 128.4)" fill="#fff" stroke="#1e1e1e" stroke-width="1.84"/>
<path d="M133.51,159.40 L133.53,158.87 L133.57,158.34 L133.63,157.81 L133.72,157.28 L133.82,156.76 L133.94,156.24 L134.09,155.72 L134.25,155.22 L134.43,154.72 L134.63,154.24 L134.85,153.77 L135.08,153.31 L135.34,152.86 L135.60,152.44 L135.89,152.02 L136.19,151.63 L136.50,151.25 L136.82,150.90 L137.16,150.56 L137.51,150.25 L137.87,149.96 L138.23,149.70 L138.61,149.46 L138.99,149.24 L139.38,149.05 L139.77,148.89 L140.17,148.75 L140.57,148.64 L140.97,148.56 L141.38,148.50 L141.78,148.47 L142.18,148.47 L142.58,148.50 L142.97,148.56 L143.36,148.64 L143.74,148.75 L144.12,148.88 L144.49,149.05 L144.85,149.24 L145.20,149.45 L145.54,149.69 L145.86,149.96 L146.18,150.25 L154.59,158.92 L154.82,159.15 L155.03,159.40 L155.23,159.65 L155.41,159.92 L155.59,160.21 L155.75,160.50 L155.89,160.81 L156.03,161.12 L156.14,161.44 L156.25,161.78 L156.33,162.11 L156.41,162.46 L156.46,162.81 L156.50,163.16 L156.53,163.51 L156.54,163.87 L156.53,164.23 L156.51,164.59 L156.47,164.95 L156.41,165.31 L156.34,165.66 L156.25,166.01 L156.15,166.36 L156.04,166.70 L155.91,167.03 L155.76,167.36 L155.60,167.68 L155.43,167.98 L155.25,168.28 L155.05,168.57 L154.84,168.85 L154.62,169.11 L154.38,169.36 L154.14,169.59 L153.89,169.82 L153.63,170.02 L153.36,170.22 L153.09,170.39 L152.81,170.55 L152.52,170.69 L152.23,170.81 L151.93,170.92 L151.63,171.00 L151.33,171.07 L151.02,171.12 L150.72,171.16 L150.41,171.17 L150.10,171.16 L149.80,171.14 L149.50,171.09 L149.21,171.03 L139.04,168.56 L138.66,168.45 L138.28,168.31 L137.91,168.15 L137.55,167.96 L137.20,167.75 L136.86,167.50 L136.54,167.24 L136.22,166.95 L135.92,166.64 L135.64,166.31 L135.37,165.95 L135.11,165.58 L134.88,165.18 L134.66,164.77 L134.45,164.34 L134.27,163.90 L134.10,163.44 L133.96,162.96 L133.83,162.48 L133.73,161.98 L133.64,161.48 L133.58,160.97 L133.53,160.45 L133.51,159.93Z" fill="#9a9a9a" stroke="#1e1e1e" stroke-width="1.15" stroke-linejoin="round" stroke-linecap="round" />
<path d="M140.71,168.75 L140.49,168.63 L140.27,168.49 L140.07,168.34 L139.86,168.18 L139.66,168.01 L139.47,167.83 L139.28,167.65 L139.10,167.45 L138.92,167.25 L138.75,167.04 L138.59,166.82 L138.43,166.59 L138.28,166.35 L138.14,166.11 L138.00,165.86 L137.87,165.60 L137.75,165.34 L137.64,165.07 L137.53,164.79 L137.44,164.51 L137.35,164.22 L137.27,163.93 L137.19,163.64 L137.13,163.34 L137.07,163.03 L137.03,162.73 L136.99,162.42 L136.96,162.10 L136.93,161.79 L136.92,161.47 L136.92,161.16 L136.92,160.84 L136.93,160.52 L136.95,160.20 L136.98,159.88 L137.02,159.56 L137.07,159.24 L137.13,158.93 L137.19,158.61 L137.26,158.30 L137.34,157.99 L137.43,157.68 L137.53,157.38 L137.64,157.08 L137.75,156.78 L137.87,156.49 L138.00,156.20 L138.13,155.92 L138.27,155.64 L138.42,155.37 L138.58,155.10 L138.74,154.84 L138.91,154.59 L139.09,154.34 L139.27,154.10 L139.46,153.87 L139.65,153.65 L139.85,153.43 L140.06,153.23 L140.26,153.03 L140.48,152.84 L140.70,152.66 L140.92,152.49 L141.14,152.33 L141.37,152.18 L141.60,152.04 L141.84,151.90 L142.08,151.78 L142.32,151.67 L142.56,151.57 L142.81,151.48 L143.05,151.40 L143.30,151.33 L143.55,151.28 L143.80,151.23 L144.04,151.20 L144.29,151.17 L144.54,151.16 L144.79,151.16 L145.04,151.17 L145.28,151.19 L145.53,151.22 L145.77,151.26 L146.01,151.32 L146.25,151.38 L146.48,151.46 L146.72,151.54 L146.95,151.64 L147.17,151.75 L147.39,151.87" fill="none" stroke="#1e1e1e" stroke-width="1.15" stroke-linejoin="round" stroke-linecap="round" />
<ellipse cx="150.7" cy="164.3" rx="6.9" ry="5.8" transform="rotate(-80 150.7 164.3)" fill="#fff" stroke="#1e1e1e" stroke-width="1.84"/>
<path d="M115.75,108.1 L129.5,100 L138.25,104.4 L125.75,113.1Z" fill="#fff" stroke="#1e1e1e" stroke-width="1.03" stroke-linejoin="round" stroke-linecap="round" />
<path d="M115.75,108.1 L115.75,125 L125.1,130 L125.75,113.1Z" fill="#fff" stroke="#1e1e1e" stroke-width="1.03" stroke-linejoin="round" stroke-linecap="round" />
<path d="M125.75,113.1 L130,111 L128,131 L125.1,133 Z" fill="#fff" stroke="#1e1e1e" stroke-width="1.03" stroke-linejoin="round" stroke-linecap="round" />
<path d="M141.00,107.00 L154.20,112.00 L138.40,138.60 L127.00,132.50Z" fill="#fff" stroke="#1e1e1e" stroke-width="1.26" stroke-linejoin="round" stroke-linecap="round" />
<path d="M142.4,107.6 L128.4,132.9" fill="none" stroke="#1e1e1e" stroke-width="0.92" stroke-linejoin="round" stroke-linecap="round" />
<path d="M141.61,108.78 L152.10,112.82 L138.04,136.67 L128.85,131.83Z" fill="none" stroke="#1e1e1e" stroke-width="0.80" stroke-linejoin="round" stroke-linecap="round" />
<path d="M142.49,110.06 L150.32,113.11 L147.39,118.12 L139.76,114.94Z" fill="#fff" stroke="#1e1e1e" stroke-width="1.03" stroke-linejoin="round" stroke-linecap="round" />
<path d="M133.16,126.78 L140.29,130.26 L137.36,135.27 L130.43,131.66Z" fill="#fff" stroke="#1e1e1e" stroke-width="1.03" stroke-linejoin="round" stroke-linecap="round" />
<path d="M140.09,116.04 L134.30,126.35" fill="none" stroke="#1e1e1e" stroke-width="0.92" stroke-linejoin="round" stroke-linecap="round" />
<path d="M142.12,116.89 L136.21,127.27" fill="none" stroke="#1e1e1e" stroke-width="0.92" stroke-linejoin="round" stroke-linecap="round" />
<path d="M144.14,117.74 L138.13,128.20" fill="none" stroke="#1e1e1e" stroke-width="0.92" stroke-linejoin="round" stroke-linecap="round" />
<path d="M146.17,118.59 L140.04,129.12" fill="none" stroke="#1e1e1e" stroke-width="0.92" stroke-linejoin="round" stroke-linecap="round" />
<path d="M125.75,113.1 L131,112.2 L131.5,119 L128.5,129 L125.1,130Z" fill="#fff" stroke="#1e1e1e" stroke-width="1.03" stroke-linejoin="round" stroke-linecap="round" />
<ellipse cx="71.3" cy="242.98000000000002" rx="65.01" ry="43.63" transform="rotate(-60.62 71.3 242.98000000000002)" fill="#fff" stroke="#1e1e1e" stroke-width="1.15"/>
<ellipse cx="71.22" cy="242.92000000000002" rx="58.48" ry="30.63" transform="rotate(-60.98 71.22 242.92000000000002)" fill="none" stroke="#1e1e1e" stroke-width="1.03"/>
<path d="M94.91,187.49 L96.82,187.83 L98.66,188.32 L100.44,188.96 L102.14,189.75 L103.77,190.69 L105.32,191.78 L106.79,193.00 L108.16,194.36 L109.45,195.86 L110.63,197.49 L111.72,199.24 L112.71,201.11 L113.59,203.10 L114.36,205.20 L115.02,207.40 L115.57,209.69 L116.00,212.08 L116.32,214.56 L116.53,217.11 L116.62,219.73 L116.59,222.41 L116.44,225.15 L116.18,227.93 L115.81,230.76 L115.32,233.62 L114.72,236.50 L114.00,239.39 L113.18,242.30 L112.25,245.20 L111.22,248.09 L110.08,250.97 L108.85,253.82 L107.52,256.63 L106.10,259.41 L104.59,262.14 L103.00,264.81 L101.34,267.41 L99.60,269.95 L97.79,272.40 L95.92,274.77 L93.99,277.05 L92.00,279.22 L89.97,281.30 L87.90,283.26 L85.79,285.11 L83.66,286.83 L81.50,288.43 L79.32,289.89" fill="none" stroke="#1e1e1e" stroke-width="1.03" stroke-linejoin="round" stroke-linecap="round" />
<path d="M105.33,194.62 L106.60,195.91 L107.79,197.33 L108.88,198.89 L109.87,200.56 L110.75,202.36 L111.54,204.28 L112.21,206.30 L112.78,208.44 L113.23,210.67 L113.57,212.99 L113.80,215.40 L113.92,217.89 L113.92,220.46 L113.81,223.09 L113.59,225.77 L113.25,228.51 L112.80,231.30 L112.25,234.12 L111.58,236.96 L110.80,239.83 L109.92,242.71 L108.94,245.59 L107.86,248.47 L106.68,251.34 L105.40,254.18 L104.04,257.00 L102.59,259.78 L101.06,262.52 L99.45,265.21 L97.76,267.84 L96.01,270.41 L94.20,272.90 L92.32,275.31 L90.39,277.63 L88.42,279.86 L86.40,282.00 L84.34,284.02 L82.25,285.94 L80.14,287.74 L78.01,289.41 L75.86,290.97 L73.70,292.39 L71.55,293.67 L69.39,294.82" fill="none" stroke="#1e1e1e" stroke-width="1.03" stroke-linejoin="round" stroke-linecap="round" />
<path d="M65.86,296.41 L63.69,297.20 L61.55,297.84 L59.44,298.31 L57.37,298.63 L55.35,298.78 L53.38,298.78 L51.46,298.61 L49.62,298.29 L47.83,297.80 L46.13,297.16 L44.50,296.36 L42.96,295.41 L41.50,294.31 L40.14,293.06 L38.87,291.67 L37.71,290.14 L36.65,288.47 L35.69,286.68 L34.85,284.76" fill="none" stroke="#1e1e1e" stroke-width="0.92" stroke-linejoin="round" stroke-linecap="round" />
<path d="M81.5,294.5 L78.5,290.0" fill="none" stroke="#1e1e1e" stroke-width="1.03" stroke-linejoin="round" stroke-linecap="round" />
<path d="M69.5,295.3 L71.8,299.1" fill="none" stroke="#1e1e1e" stroke-width="1.03" stroke-linejoin="round" stroke-linecap="round" />
<path d="M59.20,244.50 C59.13,243.25 59.80,245.50 59.20,244.50 C58.60,243.50 56.47,240.92 55.60,238.50 C54.73,236.08 54.02,232.92 54.00,230.00 C53.98,227.08 54.42,223.83 55.50,221.00 C56.58,218.17 58.58,215.07 60.50,213.00 C62.42,210.93 65.00,209.47 67.00,208.60 C69.00,207.73 70.67,207.65 72.50,207.80 C74.33,207.95 76.52,208.55 78.00,209.50 C79.48,210.45 80.70,211.83 81.40,213.50 C82.10,215.17 82.33,217.42 82.20,219.50 C82.07,221.58 81.38,224.08 80.60,226.00 C79.82,227.92 78.40,229.80 77.50,231.00 C76.60,232.20 75.58,232.83 75.20,233.20 C74.82,233.57 75.30,230.40 75.20,233.20 C75.10,236.00 74.87,245.20 74.60,250.00 C74.33,254.80 74.10,258.83 73.60,262.00 C73.10,265.17 72.62,267.17 71.60,269.00 C70.58,270.83 68.97,272.30 67.50,273.00 C66.03,273.70 63.95,273.70 62.80,273.20 C61.65,272.70 61.07,271.87 60.60,270.00 C60.13,268.13 60.17,265.00 60.00,262.00 C59.83,259.00 59.73,254.92 59.60,252.00 C59.47,249.08 59.27,245.75 59.20,244.50Z" fill="#fff" stroke="#1e1e1e" stroke-width="1.15" stroke-linejoin="round" stroke-linecap="round" />
<path d="M80.80,212.50 C80.87,213.58 81.37,216.75 81.20,219.00 C81.03,221.25 80.53,224.00 79.80,226.00 C79.07,228.00 77.73,229.75 76.80,231.00 C75.87,232.25 74.63,233.08 74.20,233.50" fill="none" stroke="#1e1e1e" stroke-width="0.80" stroke-linejoin="round" stroke-linecap="round" />
<path d="M73.7,235 L73.5,250 L72.6,262 L70.8,268.5" fill="none" stroke="#555" stroke-width="0.92" stroke-linejoin="round" stroke-linecap="round" />
<path d="M74.3,235 L74.0,262" fill="none" stroke="#888" stroke-width="1.38" stroke-linejoin="round" stroke-linecap="round" />
<ellipse cx="168.14" cy="297.7" rx="62.32" ry="40.27" transform="rotate(-58.31 168.14 297.7)" fill="#fff" stroke="#1e1e1e" stroke-width="1.15"/>
<ellipse cx="172.29" cy="299.34000000000003" rx="60.16" ry="34.39" transform="rotate(-59.03 172.29 299.34000000000003)" fill="none" stroke="#1e1e1e" stroke-width="1.03"/>
<ellipse cx="173.09" cy="299.94000000000005" rx="59.559999999999995" ry="33.79" transform="rotate(-59.03 173.09 299.94000000000005)" fill="none" stroke="#1e1e1e" stroke-width="0.69"/>
<path d="M152.50,272.00 C154.55,268.50 156.58,265.13 159.50,263.00 C162.42,260.87 166.58,259.98 170.00,259.20 C173.42,258.42 176.83,258.40 180.00,258.30 C183.17,258.20 186.50,257.85 189.00,258.60 C191.50,259.35 193.73,260.98 195.00,262.80 C196.27,264.62 196.73,267.13 196.60,269.50 C196.47,271.87 194.73,274.42 194.20,277.00 C193.67,279.58 193.13,282.42 193.40,285.00 C193.67,287.58 194.97,290.17 195.80,292.50 C196.63,294.83 198.30,296.50 198.40,299.00 C198.50,301.50 197.97,303.58 196.40,307.50 C194.83,311.42 191.70,318.55 189.00,322.50 C186.30,326.45 183.37,329.02 180.20,331.20 C177.03,333.38 173.37,334.90 170.00,335.60 C166.63,336.30 162.92,336.13 160.00,335.40 C157.08,334.67 154.33,333.10 152.50,331.20 C150.67,329.30 149.48,326.62 149.00,324.00 C148.52,321.38 149.67,318.10 149.60,315.50 C149.53,312.90 149.50,310.45 148.60,308.40 C147.70,306.35 145.13,305.30 144.20,303.20 C143.27,301.10 142.50,299.00 143.00,295.80 C143.50,292.60 145.62,287.97 147.20,284.00 C148.78,280.03 150.45,275.50 152.50,272.00Z" fill="none" stroke="#1e1e1e" stroke-width="1.15" stroke-linejoin="round" stroke-linecap="round" />
<path d="M153.18,272.88 C155.16,269.50 157.12,266.25 159.94,264.19 C162.75,262.13 166.77,261.28 170.07,260.52 C173.37,259.77 176.66,259.75 179.72,259.65 C182.78,259.56 185.99,259.22 188.41,259.94 C190.82,260.67 192.97,262.24 194.19,264.00 C195.42,265.75 195.87,268.18 195.74,270.46 C195.61,272.75 193.94,275.21 193.42,277.70 C192.91,280.19 192.39,282.93 192.65,285.42 C192.91,287.91 194.16,290.41 194.97,292.66 C195.77,294.91 197.38,296.52 197.48,298.93 C197.57,301.34 197.06,303.35 195.55,307.13 C194.03,310.91 191.01,317.80 188.41,321.61 C185.80,325.42 182.97,327.90 179.91,330.00 C176.86,332.11 173.32,333.57 170.07,334.25 C166.82,334.92 163.23,334.76 160.42,334.06 C157.61,333.35 154.95,331.84 153.18,330.00 C151.41,328.17 150.27,325.58 149.81,323.06 C149.34,320.53 150.45,317.36 150.38,314.85 C150.32,312.34 150.29,309.98 149.42,308.00 C148.55,306.02 146.07,305.01 145.17,302.98 C144.27,300.96 143.53,298.93 144.01,295.84 C144.50,292.75 146.54,288.28 148.07,284.45 C149.60,280.63 151.20,276.25 153.18,272.88Z" fill="none" stroke="#1e1e1e" stroke-width="0.80" stroke-linejoin="round" stroke-linecap="round" />
<path d="M176.50,262.00 C179.50,262.50 183.42,264.25 185.50,266.50 C187.58,268.75 188.58,272.17 189.00,275.50 C189.42,278.83 188.73,283.67 188.00,286.50 C187.27,289.33 185.33,290.25 184.60,292.50 C183.87,294.75 183.87,295.75 183.60,300.00 C183.33,304.25 183.60,313.42 183.00,318.00 C182.40,322.58 181.83,325.13 180.00,327.50 C178.17,329.87 174.75,331.62 172.00,332.20 C169.25,332.78 165.63,332.28 163.50,331.00 C161.37,329.72 160.15,328.00 159.20,324.50 C158.25,321.00 158.42,313.67 157.80,310.00 C157.18,306.33 156.30,305.50 155.50,302.50 C154.70,299.50 153.28,295.92 153.00,292.00 C152.72,288.08 152.80,282.75 153.80,279.00 C154.80,275.25 156.72,272.08 159.00,269.50 C161.28,266.92 164.58,264.75 167.50,263.50 C170.42,262.25 173.50,261.50 176.50,262.00Z" fill="#fff" stroke="#1e1e1e" stroke-width="1.26" stroke-linejoin="round" stroke-linecap="round" />
<path d="M176.30,263.60 C179.07,264.07 182.72,265.73 184.60,267.80 C186.48,269.87 187.27,272.93 187.60,276.00 C187.93,279.07 187.33,283.53 186.60,286.20 C185.87,288.87 183.93,289.70 183.20,292.00 C182.47,294.30 182.47,295.70 182.20,300.00 C181.93,304.30 182.17,313.37 181.60,317.80 C181.03,322.23 180.43,324.43 178.80,326.60 C177.17,328.77 174.27,330.30 171.80,330.80 C169.33,331.30 165.90,330.77 164.00,329.60 C162.10,328.43 161.20,327.07 160.40,323.80 C159.60,320.53 159.77,313.55 159.20,310.00 C158.63,306.45 157.77,305.50 157.00,302.50 C156.23,299.50 154.87,295.83 154.60,292.00 C154.33,288.17 154.47,283.07 155.40,279.50 C156.33,275.93 158.10,273.02 160.20,270.60 C162.30,268.18 165.32,266.17 168.00,265.00 C170.68,263.83 173.53,263.13 176.30,263.60Z" fill="none" stroke="#1e1e1e" stroke-width="0.80" stroke-linejoin="round" stroke-linecap="round" />
<path d="M176.60,266.20 C179.12,266.70 182.13,267.95 183.60,270.00 C185.07,272.05 185.23,275.75 185.40,278.50 C185.57,281.25 185.23,284.33 184.60,286.50 C183.97,288.67 182.15,289.25 181.60,291.50 C181.05,293.75 181.40,295.75 181.30,300.00 C181.20,304.25 181.48,312.80 181.00,317.00 C180.52,321.20 179.98,323.33 178.40,325.20 C176.82,327.07 173.57,327.87 171.50,328.20 C169.43,328.53 167.28,328.15 166.00,327.20 C164.72,326.25 164.27,325.37 163.80,322.50 C163.33,319.63 163.37,314.25 163.20,310.00 C163.03,305.75 163.13,299.92 162.80,297.00 C162.47,294.08 161.70,294.17 161.20,292.50 C160.70,290.83 160.03,289.25 159.80,287.00 C159.57,284.75 159.33,281.58 159.80,279.00 C160.27,276.42 161.15,273.50 162.60,271.50 C164.05,269.50 166.17,267.88 168.50,267.00 C170.83,266.12 174.08,265.70 176.60,266.20Z" fill="#fff" stroke="#1e1e1e" stroke-width="1.15" stroke-linejoin="round" stroke-linecap="round" />
<path d="M176.90,266.60 C177.10,267.50 178.05,269.93 178.10,272.00 C178.15,274.07 177.78,276.83 177.20,279.00 C176.62,281.17 175.27,283.43 174.60,285.00 C173.93,286.57 173.43,287.83 173.20,288.40" fill="none" stroke="#1e1e1e" stroke-width="1.03" stroke-linejoin="round" stroke-linecap="round" />
<path d="M173.2,288.4 L181.2,292.2" fill="none" stroke="#1e1e1e" stroke-width="1.03" stroke-linejoin="round" stroke-linecap="round" />
<path d="M176.9,292.6 L176.9,320" fill="none" stroke="#1e1e1e" stroke-width="1.03" stroke-linejoin="round" stroke-linecap="round" />
<path d="M164.00,324.50 C164.67,324.00 166.58,322.83 168.00,321.50 C169.42,320.17 171.03,318.25 172.50,316.50 C173.97,314.75 176.08,311.92 176.80,311.00" fill="none" stroke="#1e1e1e" stroke-width="0.80" stroke-linejoin="round" stroke-linecap="round" />
<path d="M142.8,264.6 L153.2,271.4" fill="none" stroke="#1e1e1e" stroke-width="1.03" stroke-linejoin="round" stroke-linecap="round" />
<circle cx="153.2" cy="271.4" r="1.1" fill="#fff" stroke="#1e1e1e" stroke-width="0.8"/>
<path d="M127.2,291.6 L137.4,297.0" fill="none" stroke="#1e1e1e" stroke-width="1.03" stroke-linejoin="round" stroke-linecap="round" />
<circle cx="137.4" cy="297.0" r="1.1" fill="#fff" stroke="#1e1e1e" stroke-width="0.8"/>
<path d="M148.2,270.2 L136.8,295.0" fill="none" stroke="#1e1e1e" stroke-width="0.92" stroke-linejoin="round" stroke-linecap="round" />
<path d="M151.8,273.3 L143.0,293.3" fill="none" stroke="#333" stroke-width="1.49" stroke-linejoin="round" stroke-linecap="round" />
<path d="M152.90,273.78 L150.70,272.82" fill="none" stroke="#333" stroke-width="0.69" stroke-linejoin="round" stroke-linecap="round" />
<path d="M152.02,275.78 L149.82,274.82" fill="none" stroke="#333" stroke-width="0.69" stroke-linejoin="round" stroke-linecap="round" />
<path d="M151.14,277.78 L148.94,276.82" fill="none" stroke="#333" stroke-width="0.69" stroke-linejoin="round" stroke-linecap="round" />
<path d="M150.26,279.78 L148.06,278.82" fill="none" stroke="#333" stroke-width="0.69" stroke-linejoin="round" stroke-linecap="round" />
<path d="M149.38,281.78 L147.18,280.82" fill="none" stroke="#333" stroke-width="0.69" stroke-linejoin="round" stroke-linecap="round" />
<path d="M148.50,283.78 L146.30,282.82" fill="none" stroke="#333" stroke-width="0.69" stroke-linejoin="round" stroke-linecap="round" />
<path d="M147.62,285.78 L145.42,284.82" fill="none" stroke="#333" stroke-width="0.69" stroke-linejoin="round" stroke-linecap="round" />
<path d="M146.74,287.78 L144.54,286.82" fill="none" stroke="#333" stroke-width="0.69" stroke-linejoin="round" stroke-linecap="round" />
<path d="M145.86,289.78 L143.66,288.82" fill="none" stroke="#333" stroke-width="0.69" stroke-linejoin="round" stroke-linecap="round" />
<path d="M144.98,291.78 L142.78,290.82" fill="none" stroke="#333" stroke-width="0.69" stroke-linejoin="round" stroke-linecap="round" />
<path d="M144.10,293.78 L141.90,292.82" fill="none" stroke="#333" stroke-width="0.69" stroke-linejoin="round" stroke-linecap="round" />
<path d="M209.5,298.5 L204.6,302.8" fill="none" stroke="#1e1e1e" stroke-width="1.03" stroke-linejoin="round" stroke-linecap="round" />
<circle cx="204.6" cy="302.8" r="1.1" fill="#fff" stroke="#1e1e1e" stroke-width="0.8"/>
<path d="M197.5,330.0 L191.2,325.6" fill="none" stroke="#1e1e1e" stroke-width="1.03" stroke-linejoin="round" stroke-linecap="round" />
<circle cx="191.2" cy="325.6" r="1.1" fill="#fff" stroke="#1e1e1e" stroke-width="0.8"/>
<path d="M201.8,305.6 L192.8,323.8" fill="none" stroke="#333" stroke-width="1.49" stroke-linejoin="round" stroke-linecap="round" />
<path d="M202.88,306.13 L200.72,305.07" fill="none" stroke="#333" stroke-width="0.69" stroke-linejoin="round" stroke-linecap="round" />
<path d="M201.98,307.95 L199.82,306.89" fill="none" stroke="#333" stroke-width="0.69" stroke-linejoin="round" stroke-linecap="round" />
<path d="M201.08,309.77 L198.92,308.71" fill="none" stroke="#333" stroke-width="0.69" stroke-linejoin="round" stroke-linecap="round" />
<path d="M200.18,311.59 L198.02,310.53" fill="none" stroke="#333" stroke-width="0.69" stroke-linejoin="round" stroke-linecap="round" />
<path d="M199.28,313.41 L197.12,312.35" fill="none" stroke="#333" stroke-width="0.69" stroke-linejoin="round" stroke-linecap="round" />
<path d="M198.38,315.23 L196.22,314.17" fill="none" stroke="#333" stroke-width="0.69" stroke-linejoin="round" stroke-linecap="round" />
<path d="M197.48,317.05 L195.32,315.99" fill="none" stroke="#333" stroke-width="0.69" stroke-linejoin="round" stroke-linecap="round" />
<path d="M196.58,318.87 L194.42,317.81" fill="none" stroke="#333" stroke-width="0.69" stroke-linejoin="round" stroke-linecap="round" />
<path d="M195.68,320.69 L193.52,319.63" fill="none" stroke="#333" stroke-width="0.69" stroke-linejoin="round" stroke-linecap="round" />
<path d="M194.78,322.51 L192.62,321.45" fill="none" stroke="#333" stroke-width="0.69" stroke-linejoin="round" stroke-linecap="round" />
<path d="M193.88,324.33 L191.72,323.27" fill="none" stroke="#333" stroke-width="0.69" stroke-linejoin="round" stroke-linecap="round" />
<path d="M206.5,303.5 L196.5,326.5" fill="none" stroke="#1e1e1e" stroke-width="0.92" stroke-linejoin="round" stroke-linecap="round" />
<path d="M190.54,247.60 L206.13,255.54 L203.86,260.00 L188.27,252.06Z" fill="#fff" stroke="#1e1e1e" stroke-width="1.15" stroke-linejoin="round" stroke-linecap="round" />
<path d="M192.50,248.60 L190.23,253.05" fill="none" stroke="#1e1e1e" stroke-width="0.92" stroke-linejoin="round" stroke-linecap="round" />
<path d="M190.54,247.60 L192.50,248.60 L190.23,253.05 L188.27,252.06Z" fill="#555" stroke="#1e1e1e" stroke-width="0.46" stroke-linejoin="round" stroke-linecap="round" />
<path d="M204.17,254.55 L201.90,259.00" fill="none" stroke="#1e1e1e" stroke-width="0.92" stroke-linejoin="round" stroke-linecap="round" />
<path d="M206.13,255.54 L204.17,254.55 L201.90,259.00 L203.86,260.00Z" fill="#555" stroke="#1e1e1e" stroke-width="0.46" stroke-linejoin="round" stroke-linecap="round" />
<path d="M135.70,339.53 L152.51,347.02 L149.90,352.87 L133.09,345.38Z" fill="#fff" stroke="#1e1e1e" stroke-width="1.15" stroke-linejoin="round" stroke-linecap="round" />
<path d="M137.71,340.43 L135.10,346.28" fill="none" stroke="#1e1e1e" stroke-width="0.92" stroke-linejoin="round" stroke-linecap="round" />
<path d="M135.70,339.53 L137.71,340.43 L135.10,346.28 L133.09,345.38Z" fill="#555" stroke="#1e1e1e" stroke-width="0.46" stroke-linejoin="round" stroke-linecap="round" />
<path d="M150.50,346.12 L147.89,351.97" fill="none" stroke="#1e1e1e" stroke-width="0.92" stroke-linejoin="round" stroke-linecap="round" />
<path d="M152.51,347.02 L150.50,346.12 L147.89,351.97 L149.90,352.87Z" fill="#555" stroke="#1e1e1e" stroke-width="0.46" stroke-linejoin="round" stroke-linecap="round" />
<path d="M195.11,283.30 L195.13,282.77 L195.17,282.24 L195.23,281.71 L195.31,281.18 L195.42,280.66 L195.54,280.14 L195.69,279.62 L195.85,279.12 L196.03,278.62 L196.23,278.14 L196.45,277.67 L196.68,277.21 L196.94,276.76 L197.20,276.33 L197.49,275.92 L197.79,275.53 L198.10,275.15 L198.42,274.80 L198.76,274.46 L199.11,274.15 L199.47,273.86 L199.83,273.60 L200.21,273.36 L200.59,273.14 L200.98,272.95 L201.37,272.79 L201.77,272.65 L202.17,272.54 L202.57,272.46 L202.98,272.40 L203.38,272.37 L203.78,272.37 L204.18,272.40 L204.57,272.45 L204.96,272.54 L205.34,272.65 L205.72,272.79 L206.09,272.95 L206.45,273.14 L206.80,273.35 L207.14,273.60 L207.46,273.86 L207.78,274.15 L216.29,282.52 L216.52,282.75 L216.73,283.00 L216.93,283.25 L217.11,283.52 L217.29,283.81 L217.45,284.10 L217.59,284.41 L217.72,284.72 L217.84,285.04 L217.95,285.38 L218.03,285.71 L218.10,286.06 L218.16,286.40 L218.20,286.76 L218.23,287.11 L218.24,287.47 L218.23,287.83 L218.21,288.19 L218.17,288.55 L218.11,288.91 L218.04,289.26 L217.96,289.61 L217.85,289.96 L217.74,290.30 L217.61,290.63 L217.46,290.96 L217.30,291.27 L217.13,291.58 L216.94,291.88 L216.75,292.17 L216.54,292.45 L216.32,292.71 L216.09,292.96 L215.84,293.19 L215.59,293.42 L215.33,293.62 L215.06,293.81 L214.79,293.99 L214.51,294.15 L214.22,294.29 L213.93,294.41 L213.63,294.52 L213.33,294.61 L213.03,294.67 L212.72,294.72 L212.42,294.76 L212.11,294.77 L211.81,294.76 L211.50,294.74 L211.20,294.69 L210.91,294.63 L201.03,292.55 L200.64,292.46 L200.26,292.35 L199.88,292.21 L199.51,292.05 L199.15,291.86 L198.80,291.65 L198.46,291.40 L198.14,291.14 L197.82,290.85 L197.52,290.54 L197.24,290.21 L196.97,289.85 L196.71,289.48 L196.48,289.08 L196.25,288.67 L196.05,288.24 L195.87,287.80 L195.70,287.34 L195.56,286.86 L195.43,286.38 L195.33,285.88 L195.24,285.38 L195.18,284.87 L195.13,284.35 L195.11,283.82Z" fill="#9a9a9a" stroke="#1e1e1e" stroke-width="1.15" stroke-linejoin="round" stroke-linecap="round" />
<path d="M202.45,292.62 L202.23,292.50 L202.01,292.37 L201.80,292.22 L201.59,292.07 L201.39,291.91 L201.19,291.73 L201.00,291.55 L200.82,291.36 L200.64,291.16 L200.47,290.95 L200.30,290.74 L200.14,290.51 L199.99,290.28 L199.84,290.04 L199.70,289.79 L199.57,289.54 L199.44,289.28 L199.33,289.01 L199.22,288.74 L199.12,288.46 L199.02,288.18 L198.94,287.89 L198.86,287.59 L198.79,287.30 L198.73,286.99 L198.68,286.69 L198.63,286.38 L198.60,286.07 L198.57,285.76 L198.56,285.44 L198.55,285.12 L198.55,284.81 L198.56,284.49 L198.57,284.17 L198.60,283.85 L198.63,283.53 L198.68,283.21 L198.73,282.89 L198.79,282.58 L198.86,282.26 L198.93,281.95 L199.02,281.64 L199.11,281.34 L199.21,281.04 L199.32,280.74 L199.44,280.44 L199.56,280.15 L199.69,279.87 L199.83,279.59 L199.98,279.31 L200.13,279.04 L200.29,278.78 L200.46,278.52 L200.63,278.27 L200.81,278.03 L201.00,277.80 L201.19,277.57 L201.38,277.35 L201.58,277.14 L201.79,276.94 L202.00,276.74 L202.22,276.56 L202.44,276.38 L202.66,276.22 L202.89,276.06 L203.12,275.92 L203.35,275.78 L203.59,275.65 L203.83,275.54 L204.07,275.43 L204.31,275.34 L204.56,275.25 L204.80,275.18 L205.05,275.12 L205.30,275.06 L205.55,275.02 L205.80,274.99 L206.05,274.97 L206.30,274.97 L206.54,274.97 L206.79,274.99 L207.04,275.01 L207.28,275.05 L207.52,275.10 L207.76,275.16 L208.00,275.23 L208.23,275.31 L208.46,275.40 L208.69,275.50 L208.91,275.62" fill="none" stroke="#1e1e1e" stroke-width="1.15" stroke-linejoin="round" stroke-linecap="round" />
<ellipse cx="212.4" cy="287.9" rx="6.9" ry="5.8" transform="rotate(-80 212.4 287.9)" fill="#fff" stroke="#1e1e1e" stroke-width="1.84"/>
<path d="M133.51,318.90 L133.53,318.37 L133.57,317.84 L133.63,317.31 L133.72,316.78 L133.82,316.26 L133.94,315.74 L134.09,315.23 L134.25,314.72 L134.43,314.23 L134.63,313.74 L134.85,313.27 L135.08,312.81 L135.34,312.36 L135.60,311.94 L135.89,311.52 L136.19,311.13 L136.50,310.75 L136.82,310.40 L137.16,310.06 L137.51,309.75 L137.87,309.46 L138.23,309.20 L138.61,308.96 L138.99,308.74 L139.38,308.55 L139.77,308.39 L140.17,308.25 L140.57,308.14 L140.97,308.06 L141.38,308.00 L141.78,307.97 L142.18,307.97 L142.58,308.00 L142.97,308.06 L143.36,308.14 L143.74,308.25 L144.12,308.38 L144.49,308.55 L144.85,308.74 L145.20,308.95 L145.54,309.19 L145.86,309.46 L146.18,309.75 L154.59,318.42 L154.82,318.65 L155.03,318.89 L155.23,319.15 L155.41,319.42 L155.59,319.71 L155.75,320.00 L155.89,320.31 L156.03,320.62 L156.14,320.94 L156.25,321.27 L156.33,321.61 L156.41,321.96 L156.46,322.31 L156.50,322.66 L156.53,323.01 L156.54,323.37 L156.53,323.73 L156.51,324.09 L156.47,324.45 L156.41,324.81 L156.34,325.16 L156.25,325.51 L156.15,325.86 L156.04,326.20 L155.91,326.53 L155.76,326.86 L155.60,327.18 L155.43,327.48 L155.25,327.78 L155.05,328.07 L154.84,328.35 L154.62,328.61 L154.38,328.86 L154.14,329.10 L153.89,329.32 L153.63,329.52 L153.36,329.71 L153.09,329.89 L152.81,330.05 L152.52,330.19 L152.23,330.31 L151.93,330.42 L151.63,330.50 L151.33,330.57 L151.02,330.62 L150.72,330.66 L150.41,330.67 L150.10,330.66 L149.80,330.64 L149.50,330.60 L149.21,330.53 L139.04,328.06 L138.66,327.95 L138.28,327.81 L137.91,327.65 L137.55,327.46 L137.20,327.25 L136.86,327.00 L136.54,326.74 L136.22,326.45 L135.92,326.14 L135.64,325.81 L135.37,325.45 L135.11,325.08 L134.88,324.68 L134.66,324.27 L134.45,323.84 L134.27,323.40 L134.10,322.94 L133.96,322.46 L133.83,321.98 L133.73,321.48 L133.64,320.98 L133.58,320.47 L133.53,319.95 L133.51,319.43Z" fill="#9a9a9a" stroke="#1e1e1e" stroke-width="1.15" stroke-linejoin="round" stroke-linecap="round" />
<path d="M140.71,328.25 L140.49,328.13 L140.27,327.99 L140.07,327.84 L139.86,327.68 L139.66,327.51 L139.47,327.33 L139.28,327.15 L139.10,326.95 L138.92,326.75 L138.75,326.54 L138.59,326.32 L138.43,326.09 L138.28,325.85 L138.14,325.61 L138.00,325.36 L137.87,325.10 L137.75,324.84 L137.64,324.57 L137.53,324.29 L137.44,324.01 L137.35,323.72 L137.27,323.43 L137.19,323.14 L137.13,322.84 L137.07,322.53 L137.03,322.23 L136.99,321.92 L136.96,321.60 L136.93,321.29 L136.92,320.97 L136.92,320.66 L136.92,320.34 L136.93,320.02 L136.95,319.70 L136.98,319.38 L137.02,319.06 L137.07,318.74 L137.13,318.43 L137.19,318.11 L137.26,317.80 L137.34,317.49 L137.43,317.18 L137.53,316.88 L137.64,316.58 L137.75,316.28 L137.87,315.99 L138.00,315.70 L138.13,315.42 L138.27,315.14 L138.42,314.87 L138.58,314.60 L138.74,314.34 L138.91,314.09 L139.09,313.84 L139.27,313.60 L139.46,313.37 L139.65,313.15 L139.85,312.93 L140.06,312.73 L140.26,312.53 L140.48,312.34 L140.70,312.16 L140.92,311.99 L141.14,311.83 L141.37,311.68 L141.60,311.54 L141.84,311.40 L142.08,311.28 L142.32,311.17 L142.56,311.07 L142.81,310.98 L143.05,310.90 L143.30,310.83 L143.55,310.78 L143.80,310.73 L144.04,310.70 L144.29,310.67 L144.54,310.66 L144.79,310.66 L145.04,310.67 L145.28,310.69 L145.53,310.72 L145.77,310.76 L146.01,310.82 L146.25,310.88 L146.48,310.96 L146.72,311.04 L146.95,311.14 L147.17,311.25 L147.39,311.37" fill="none" stroke="#1e1e1e" stroke-width="1.15" stroke-linejoin="round" stroke-linecap="round" />
<ellipse cx="150.7" cy="323.8" rx="6.9" ry="5.8" transform="rotate(-80 150.7 323.8)" fill="#fff" stroke="#1e1e1e" stroke-width="1.84"/>
</svg>
</body></html>
